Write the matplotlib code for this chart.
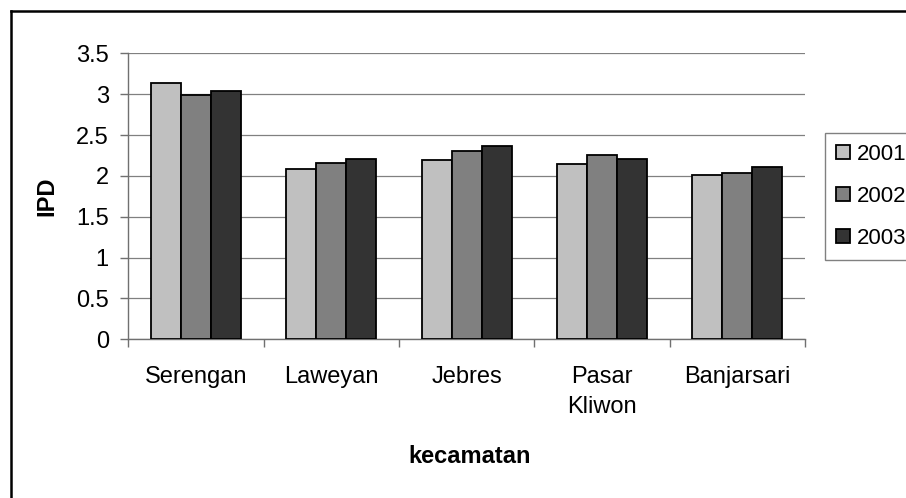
import matplotlib
matplotlib.use("Agg")
import matplotlib.pyplot as plt
from matplotlib.lines import Line2D
import numpy as np

plt.rcParams['font.family'] = ['Liberation Sans', 'DejaVu Sans']

kecamatan = ["Serengan", "Laweyan", "Jebres", "Pasar\nKliwon", "Banjarsari"]
tahun = ["2001", "2002", "2003"]
ipd_2001 = [3.14, 2.09, 2.19, 2.14, 2.01]
ipd_2002 = [2.99, 2.16, 2.31, 2.26, 2.04]
ipd_2003 = [3.04, 2.21, 2.36, 2.21, 2.11]
y_ticks = [0, 0.5, 1, 1.5, 2, 2.5, 3, 3.5]
y_tick_labels = ["0", "0.5", "1", "1.5", "2", "2.5", "3", "3.5"]

series = [ipd_2001, ipd_2002, ipd_2003]
colors = ["#c0c0c0", "#808080", "#333333"]
FS = 17

W, H = 906, 498
fig = plt.figure(figsize=(W / 100, H / 100), dpi=100)
ax = fig.add_axes([128.3 / W, 1 - 339.3 / H, (805 - 128.3) / W, (339.3 - 53.3) / H])

x = np.arange(len(kecamatan))
bw = 1 / 4.5
for j, (vals, col, lab) in enumerate(zip(series, colors, tahun)):
    ax.bar(x + (j - 1) * bw, vals, width=bw, color=col, edgecolor="black",
           linewidth=1.3, label=lab, zorder=3)

ax.set_xlim(-0.5, len(kecamatan) - 0.5)
ax.set_ylim(0, 3.5)
ax.set_yticks(y_ticks)
ax.set_yticklabels(y_tick_labels)
ax.yaxis.grid(True, color="#808080", linewidth=0.9, zorder=0)
ax.set_axisbelow(True)

# category boundaries as major ticks, names as minor tick labels
ax.set_xticks(np.arange(len(kecamatan) + 1) - 0.5)
ax.set_xticklabels([])
ax.set_xticks(x, minor=True)
ax.set_xticklabels(kecamatan, minor=True, fontsize=FS, linespacing=1.5)
ax.tick_params(axis="x", which="major", direction="out", length=6, width=1, color="#707070")
ax.tick_params(axis="x", which="minor", length=0, pad=19)
ax.tick_params(axis="y", direction="out", length=6, width=1, color="#707070",
               labelsize=FS, pad=8)

for s in ["top", "right"]:
    ax.spines[s].set_visible(False)
for s in ["left", "bottom"]:
    ax.spines[s].set_color("#707070")
    ax.spines[s].set_linewidth(1)

ax.set_ylabel("IPD", fontsize=FS, fontweight="bold", va="center")
ax.yaxis.set_label_coords(-0.12, 0.5)
ax.set_xlabel("kecamatan", fontsize=FS, fontweight="bold", va="center")
ax.xaxis.set_label_coords(0.505, -0.41)

leg = fig.legend(loc="upper left", bbox_to_anchor=(825 / W, 1 - 132.7 / H),
                 bbox_transform=fig.transFigure, fontsize=16, frameon=True,
                 fancybox=False, handlelength=0.62, handleheight=0.62,
                 handletextpad=0.3, labelspacing=0.95, borderpad=0.5,
                 borderaxespad=0)
leg.get_frame().set_edgecolor("#606060")
leg.get_frame().set_linewidth(1)

# chart-area border
fig.add_artist(Line2D([11 / W, 11 / W], [0, 1 - 11 / H], color="black", linewidth=1.8))
fig.add_artist(Line2D([11 / W, 1], [1 - 11 / H, 1 - 11 / H], color="black", linewidth=1.8))

fig.savefig("out.png", dpi=100)
